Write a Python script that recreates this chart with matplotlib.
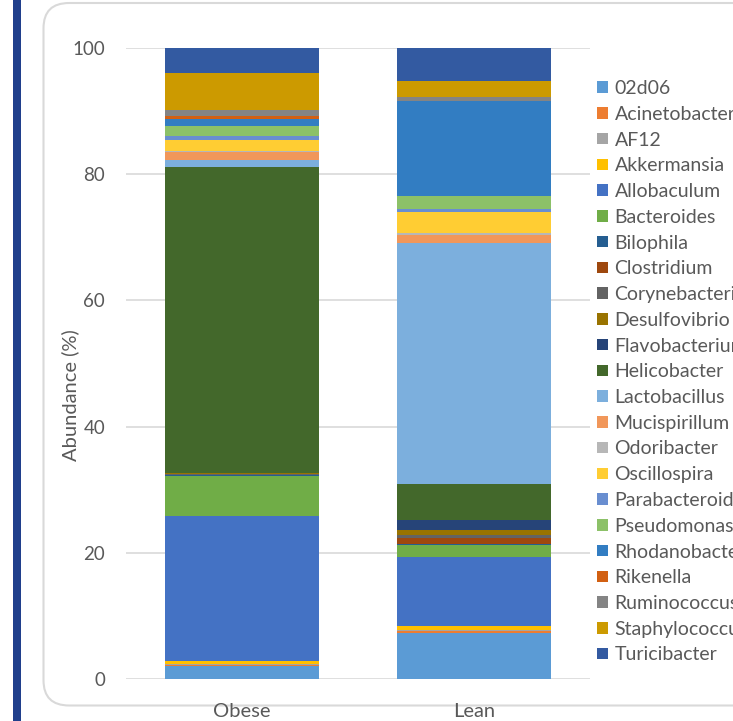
import matplotlib
matplotlib.use("Agg")
import matplotlib.pyplot as plt
from matplotlib.patches import Rectangle, FancyBboxPatch
import numpy as np

# Groups and genera (bottom of the stack first)
groups = ["Obese", "Lean"]
genera = ["02d06", "Acinetobacter", "AF12", "Akkermansia", "Allobaculum",
          "Bacteroides", "Bilophila", "Clostridium", "Corynebacterium",
          "Desulfovibrio", "Flavobacterium", "Helicobacter", "Lactobacillus",
          "Mucispirillum", "Odoribacter", "Oscillospira", "Parabacteroides",
          "Pseudomonas", "Rhodanobacter", "Rikenella", "Ruminococcus",
          "Staphylococcus", "Turicibacter"]

# Relative abundance (%) per genus, in the order above
obese = [2.0, 0.15, 0.25, 0.4, 23.1,
         6.2, 0.2, 0.1, 0.1,
         0.15, 0.05, 48.4, 1.1,
         1.3, 0.15, 1.75, 0.6,
         1.6, 1.15, 0.4, 0.95,
         5.9, 4.0]
lean = [7.3, 0.3, 0.2, 0.55, 11.0,
        1.95, 0.05, 1.05, 0.45,
        0.7, 1.7, 5.6, 38.25,
        1.25, 0.35, 3.3, 0.45,
        2.1, 15.0, 0.0, 0.7,
        2.5, 5.2]

colors = ["#5B9BD5", "#ED7D31", "#A5A5A5", "#FFC000", "#4472C4",
          "#70AD47", "#255E91", "#9E480E", "#636363",
          "#997300", "#264478", "#43682B", "#7CAFDD",
          "#F1975A", "#B7B7B7", "#FFCD33", "#698ED0",
          "#8CC168", "#327DC2", "#D26012", "#848484",
          "#CC9A00", "#335AA1"]

yticks = [0, 20, 40, 60, 80, 100]

plt.rcParams["font.family"] = ["Lato", "DejaVu Sans"]
text_color = "#595959"

W, H = 733, 721
fig = plt.figure(figsize=(W / 100, H / 100), dpi=100)

# Left accent bar and rounded chart frame
fig.patches.append(Rectangle((12.7 / W, 0), 8.0 / W, 1, transform=fig.transFigure,
                             facecolor="#203F8C", edgecolor="none", zorder=-2))
fig.patches.append(FancyBboxPatch((43.5 / W, 15.5 / H), (760 - 43.5) / W, (718 - 15.5) / H,
                                  boxstyle="round,pad=0,rounding_size=0.035",
                                  transform=fig.transFigure, facecolor="white",
                                  edgecolor="#D9D9D9", linewidth=1.5, zorder=-1))

ax = fig.add_axes([126 / W, 1 - 679 / H, (590 - 126) / W, (679 - 48) / H])
ax.set_zorder(5)
ax.set_facecolor("none")

data = np.array([obese, lean]).T
x = np.arange(len(groups))
bottom = np.zeros(len(groups))
handles = []
for name, vals, col in zip(genera, data, colors):
    b = ax.bar(x, vals, width=0.664, bottom=bottom, color=col, label=name,
               edgecolor="none", zorder=3)
    handles.append(b)
    bottom += vals

ax.set_xlim(-0.5, 1.5)
ax.set_ylim(0, 100)
ax.set_yticks(yticks)
ax.set_xticks(x)
ax.set_xticklabels(groups)
ax.tick_params(axis="both", length=0, labelsize=13.5, colors=text_color)
ax.tick_params(axis="y", pad=15)
ax.tick_params(axis="x", labelsize=14.5, pad=17)
ax.yaxis.grid(True, color="#D9D9D9", linewidth=1.2, zorder=0)
ax.set_axisbelow(True)
for s in ax.spines.values():
    s.set_visible(False)
ax.set_ylabel("Abundance (%)", fontsize=14.5, color=text_color)
ax.yaxis.set_label_coords(-0.101, 0.45)

leg = fig.legend(handles=handles, labels=genera, loc="upper left",
                 bbox_to_anchor=(597 / W, 1 - 80 / H), frameon=False,
                 fontsize=14, labelcolor=text_color, handlelength=0.55,
                 handleheight=0.55, handletextpad=0.35, labelspacing=0.45,
                 borderaxespad=0, borderpad=0)
leg.set_zorder(6)

fig.savefig("out.png", dpi=100)
